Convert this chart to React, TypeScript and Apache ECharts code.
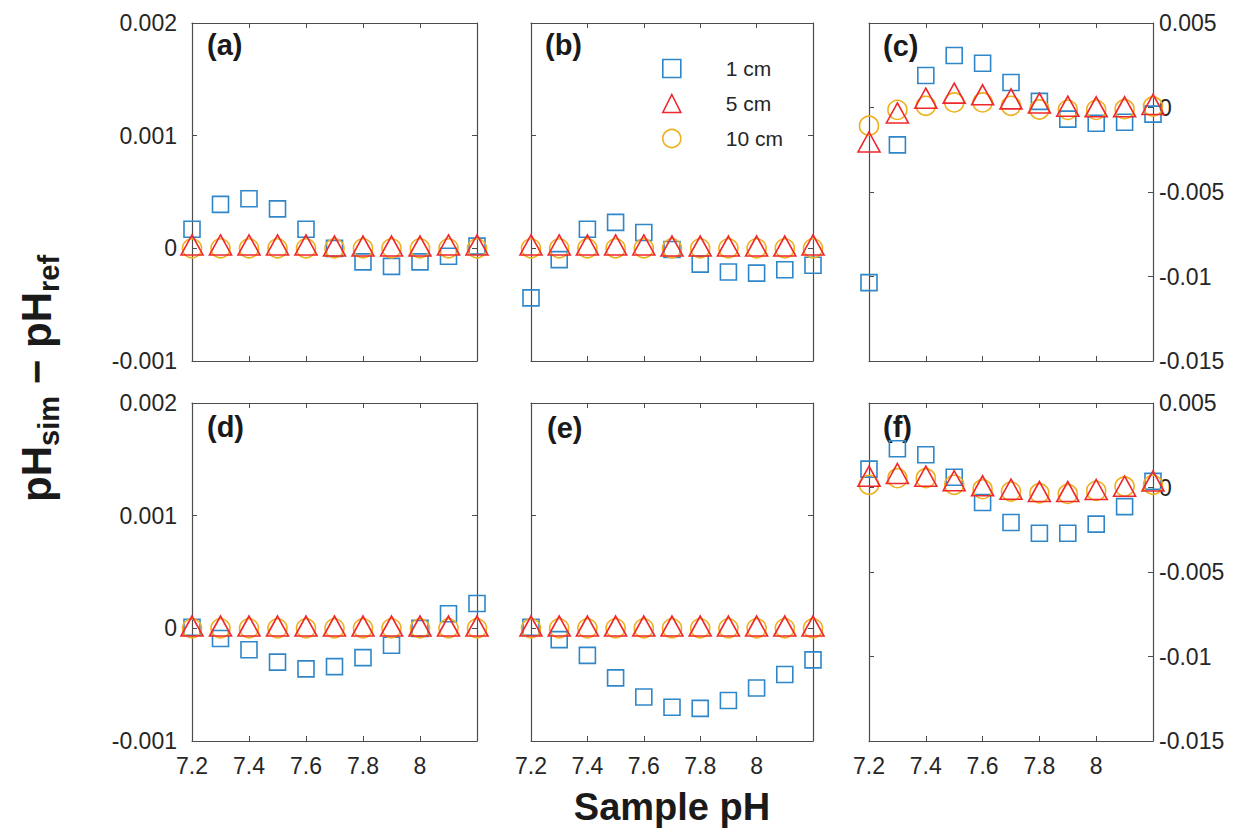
import React, { useEffect, useRef } from "react";
import * as echarts from "echarts";

// ---- data ----
const samplePH = [7.2, 7.3, 7.4, 7.5, 7.6, 7.7, 7.8, 7.9, 8.0, 8.1, 8.2];
const seriesNames = ["1 cm", "5 cm", "10 cm"];
const panelLabels = ["(a)", "(b)", "(c)", "(d)", "(e)", "(f)"];

const a1cm = [0.00017, 0.00039, 0.00044, 0.00035, 0.00017, 0.0, -0.00012, -0.00016, -0.00012, -0.00007, 0.00002];
const a5cm = [0.00003, 0.00003, 0.00003, 0.00003, 0.00003, 0.00002, 0.00002, 0.00002, 0.00002, 0.00003, 0.00003];
const a10cm = [0.0, 0.0, 0.0, 0.0, 0.0, 0.0, 0.0, 0.0, 0.0, 0.0, 0.0];

const b1cm = [-0.00044, -0.0001, 0.00017, 0.00023, 0.00014, -0.00001, -0.00014, -0.00021, -0.00022, -0.00019, -0.00015];
const b5cm = [0.00003, 0.00003, 0.00003, 0.00003, 0.00003, 0.00002, 0.00002, 0.00002, 0.00002, 0.00002, 0.00003];
const b10cm = [0.0, 0.0, 0.0, 0.0, 0.0, 0.0, 0.0, 0.0, 0.0, 0.0, 0.0];

const c1cm = [-0.01036, -0.00221, 0.00189, 0.00308, 0.00262, 0.00148, 0.00036, -0.00069, -0.00093, -0.00087, -0.00039];
const c5cm = [-0.00204, -0.00032, 0.00055, 0.00085, 0.00075, 0.00051, 0.00026, 0.00008, 0.00004, 0.00004, 0.00018];
const c10cm = [-0.00108, -0.00014, 0.0001, 0.0003, 0.0003, 0.0001, -0.00012, -0.00014, -0.00014, -0.0001, 0.00006];

const d1cm = [0.00001, -0.00009, -0.00019, -0.0003, -0.00036, -0.00034, -0.00026, -0.00015, 0.0, 0.00013, 0.00022];
const d5cm = [0.00002, 0.00002, 0.00002, 0.00002, 0.00002, 0.00002, 0.00002, 0.00002, 0.00002, 0.00002, 0.00002];
const d10cm = [0.0, 0.0, 0.0, 0.0, 0.0, 0.0, 0.0, 0.0, 0.0, 0.0, 0.0];

const e1cm = [0.00001, -0.0001, -0.00024, -0.00044, -0.00061, -0.0007, -0.00071, -0.00064, -0.00053, -0.00041, -0.00028];
const e5cm = [0.00002, 0.00002, 0.00002, 0.00002, 0.00002, 0.00002, 0.00002, 0.00002, 0.00002, 0.00002, 0.00002];
const e10cm = [0.0, 0.0, 0.0, 0.0, 0.0, 0.0, 0.0, 0.0, 0.0, 0.0, 0.0];

const f1cm = [0.00109, 0.00229, 0.00194, 0.00061, -0.00089, -0.00207, -0.00271, -0.00271, -0.00217, -0.00113, 0.00036];
const f5cm = [0.00067, 0.00083, 0.00067, 0.0004, 0.0001, -0.0001, -0.00024, -0.00024, -0.00012, 0.00008, 0.00038];
const f10cm = [0.00016, 0.00055, 0.00055, 0.00016, -0.0001, -0.00024, -0.00034, -0.00038, -0.0002, 0.00006, 0.00016];

const panelData = [
  [a1cm, a5cm, a10cm],
  [b1cm, b5cm, b10cm],
  [c1cm, c5cm, c10cm],
  [d1cm, d5cm, d10cm],
  [e1cm, e5cm, e10cm],
  [f1cm, f5cm, f10cm],
];

// axis ranges
const xRange = { min: 7.2, max: 8.2, interval: 0.2 };
const ySmall = { min: -0.001, max: 0.002, interval: 0.001 };
const yLarge = { min: -0.015, max: 0.005, interval: 0.005 };

// ---- layout / style ----
const FONT = '"Liberation Sans", Arial, Helvetica, sans-serif';
const TEXT = "#262626";
const AXIS = "#4d4d4d";
const BLUE = "#2f86c8";
const RED = "#f0282d";
const ORANGE = "#edb120";

const grids = [
  { left: 192, top: 23, width: 285, height: 338 },
  { left: 531, top: 23, width: 282, height: 338 },
  { left: 869, top: 23, width: 284, height: 338 },
  { left: 192, top: 403, width: 285, height: 338 },
  { left: 531, top: 403, width: 282, height: 338 },
  { left: 869, top: 403, width: 284, height: 338 },
];
const labelPos = [
  [207, 45], [545, 45], [883, 46],
  [207, 427], [547, 428], [883, 427],
];
const markerStyles = [
  { symbol: "rect", size: 16, color: BLUE, z: 2 },
  { symbol: "triangle", size: [22, 20], color: RED, z: 4 },
  { symbol: "circle", size: 19, color: ORANGE, z: 3 },
];

const fmtX = (v: number) => {
  const r = Math.round(v * 10) / 10;
  if (r > 8.05) return "";
  return String(r);
};
const fmtY = (v: number) => String(Math.round(v * 1e6) / 1e6);

function buildOption() {
  const xAxis: any[] = [];
  const yAxis: any[] = [];
  const series: any[] = [];
  const baseLine = { show: true, onZero: false, lineStyle: { color: AXIS, width: 1.2 } };
  const baseTick = { show: true, inside: true, length: 5, lineStyle: { color: AXIS, width: 1 } };

  grids.forEach((g, i) => {
    const yr = i % 3 === 2 ? yLarge : ySmall;
    const bottomRow = i >= 3;
    xAxis.push({
      type: "value", gridIndex: i, position: "bottom", ...xRange,
      axisLine: baseLine, axisTick: baseTick, splitLine: { show: false },
      axisLabel: { show: bottomRow, formatter: fmtX, fontSize: 23, fontFamily: FONT, color: TEXT, margin: 13, showMaxLabel: true },
    });
    xAxis.push({
      type: "value", gridIndex: i, position: "top", ...xRange,
      axisLine: baseLine, axisTick: baseTick, splitLine: { show: false },
      axisLabel: { show: false },
    });
    yAxis.push({
      type: "value", gridIndex: i, position: "left", ...yr,
      axisLine: baseLine, axisTick: baseTick, splitLine: { show: false },
      axisLabel: { show: i % 3 === 0, formatter: fmtY, fontSize: 23, fontFamily: FONT, color: TEXT, margin: 15 },
    });
    yAxis.push({
      type: "value", gridIndex: i, position: "right", ...yr,
      axisLine: baseLine, axisTick: baseTick, splitLine: { show: false },
      axisLabel: { show: i % 3 === 2, formatter: fmtY, fontSize: 23, fontFamily: FONT, color: TEXT, margin: 6 },
    });
    panelData[i].forEach((arr, s) => {
      const m = markerStyles[s];
      series.push({
        type: "scatter",
        name: seriesNames[s],
        xAxisIndex: 2 * i,
        yAxisIndex: 2 * i,
        symbol: m.symbol,
        symbolSize: m.size,
        z: m.z,
        data: samplePH.map((x, k) => [x, arr[k]]),
        itemStyle: { color: "transparent", borderColor: m.color, borderWidth: 1.6, opacity: 1 },
        emphasis: { disabled: true },
      });
    });
  });

  const graphic: any[] = [];
  panelLabels.forEach((t, i) => {
    graphic.push({
      type: "text", x: labelPos[i][0], y: labelPos[i][1],
      style: { text: t, fontSize: 29, fontWeight: "bold", fontFamily: FONT, fill: "#1a1a1a", align: "left", verticalAlign: "middle" },
    });
  });
  graphic.push({
    type: "text", x: 672, y: 807,
    style: { text: "Sample pH", fontSize: 38, fontWeight: "bold", fontFamily: FONT, fill: "#1a1a1a", align: "center", verticalAlign: "middle" },
  });
  const yMain = { fontSize: 42, fontWeight: "bold", fontFamily: FONT, fill: "#1a1a1a", align: "left", verticalAlign: "middle" };
  const ySub = { fontSize: 29, fontWeight: "bold", fontFamily: FONT, fill: "#1a1a1a", align: "left", verticalAlign: "middle" };
  graphic.push({
    type: "group", x: 36, y: 502, rotation: Math.PI / 2,
    children: [
      { type: "text", x: 0, y: 0, style: { ...yMain, text: "pH" } },
      { type: "text", x: 56, y: 13, style: { ...ySub, text: "sim" } },
      { type: "text", x: 106, y: 0, style: { ...yMain, text: " \u2212 " } },
      { type: "text", x: 154, y: 0, style: { ...yMain, text: "pH" } },
      { type: "text", x: 210, y: 13, style: { ...ySub, text: "ref" } },
    ],
  });

  return {
    animation: false,
    backgroundColor: "#ffffff",
    grid: grids.map((g) => ({ ...g, containLabel: false })),
    xAxis,
    yAxis,
    series,
    legend: {
      data: seriesNames,
      orient: "vertical",
      left: 657,
      top: 53,
      itemWidth: 18,
      itemHeight: 18,
      itemGap: 14,
      selectedMode: false,
      itemStyle: { borderWidth: 1.6 },
      textStyle: { fontSize: 21, fontFamily: FONT, color: TEXT, padding: [0, 0, 0, 40] },
    },
    graphic,
  };
}

export default function App() {
  const ref = useRef<HTMLDivElement>(null);
  useEffect(() => {
    if (!ref.current) return;
    const chart = echarts.init(ref.current, undefined, { renderer: "svg" });
    chart.setOption(buildOption() as any);
    return () => chart.dispose();
  }, []);
  return (
    <div
      ref={ref}
      style={{ position: "fixed", left: 0, top: 0, width: 1239, height: 828, background: "#fff" }}
    />
  );
}
